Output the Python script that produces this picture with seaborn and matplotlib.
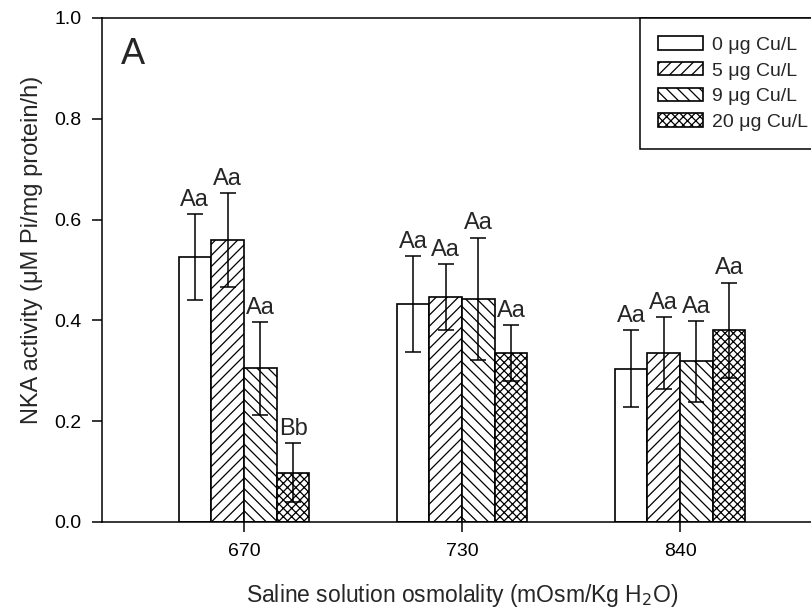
import pandas as pd
import seaborn as sns
import matplotlib.pyplot as plt

# values
osm = ['670', '730', '840']
cu_levels = ['0 μg Cu/L', '5 μg Cu/L', '9 μg Cu/L', '20 μg Cu/L']
cu0 = [0.526, 0.433, 0.304]
cu5 = [0.560, 0.446, 0.335]
cu9 = [0.305, 0.443, 0.319]
cu20 = [0.098, 0.335, 0.380]
se0 = [0.085, 0.095, 0.076]
se5 = [0.093, 0.065, 0.071]
se9 = [0.092, 0.121, 0.080]
se20 = [0.058, 0.055, 0.095]
letters0 = ['Aa', 'Aa', 'Aa']
letters5 = ['Aa', 'Aa', 'Aa']
letters9 = ['Aa', 'Aa', 'Aa']
letters20 = ['Bb', 'Aa', 'Aa']

means = [cu0, cu5, cu9, cu20]
errs = [se0, se5, se9, se20]
letters = [letters0, letters5, letters9, letters20]
hatches = ['', '///', '\\\\\\', 'xxxx']

rows = []
for lvl, m in zip(cu_levels, means):
    for o, v in zip(osm, m):
        rows.append({'osm': o, 'cu': lvl, 'nka': v})
df = pd.DataFrame(rows)

sns.set_style('ticks')
plt.rcParams['font.family'] = ['Liberation Sans', 'DejaVu Sans']
plt.rcParams['hatch.linewidth'] = 0.9

fig = plt.figure(figsize=(8.12, 6.13), dpi=100)
ax = fig.add_axes([102 / 812, 91 / 613, 720 / 812, 504 / 613])

sns.barplot(data=df, x='osm', y='nka', hue='cu', order=osm, hue_order=cu_levels,
            palette=['white'] * 4, width=0.6, errorbar=None, edgecolor='black',
            linewidth=1.2, legend=False, ax=ax)

# hatches, error bars and letters on each hue group
for cont, h, e, lab in zip(ax.containers, hatches, errs, letters):
    xs = []
    ys = []
    for bar in cont:
        bar.set_hatch(h)
        bar.set_facecolor('white')
        bar.set_edgecolor('black')
        xs.append(bar.get_x() + bar.get_width() / 2)
        ys.append(bar.get_height())
    ax.errorbar(xs, ys, yerr=e, fmt='none', ecolor='black', elinewidth=1.1,
                capsize=5.5, capthick=1.1)
    for x, y, s, t in zip(xs, ys, e, lab):
        ax.annotate(t, (x, y + s), xytext=(0, 6), textcoords='offset points',
                    ha='center', va='baseline', fontsize=17)

ax.set_xlim(-0.651, 2.651)
ax.set_ylim(0, 1.0)
ax.set_yticks([0.0, 0.2, 0.4, 0.6, 0.8, 1.0])
ax.set_yticklabels(['0.0', '0.2', '0.4', '0.6', '0.8', '1.0'])
ax.tick_params(direction='out', length=7, width=1.1, labelsize=14, pad=8, colors='black')
for sp in ax.spines.values():
    sp.set_visible(True)
    sp.set_linewidth(1.1)
    sp.set_color('black')

ax.set_xlabel('Saline solution osmolality (mOsm/Kg H$_2$O)', fontsize=16.5, labelpad=16)
ax.set_ylabel('NKA activity (μM Pi/mg protein/h)', fontsize=17)
ax.yaxis.set_label_coords(-0.082, 0.54)
ax.text(0.026, 0.962, 'A', transform=ax.transAxes, fontsize=26, va='top', ha='left')

leg = ax.legend(ax.containers, cu_levels, loc='upper left',
                bbox_to_anchor=(640 / 812, 1 - 18 / 613), bbox_transform=fig.transFigure,
                borderaxespad=0, fontsize=14, frameon=True, fancybox=False,
                edgecolor='black', framealpha=1, handlelength=2.3, handleheight=0.68,
                handletextpad=0.45, labelspacing=0.42, borderpad=0.95)
leg.get_frame().set_linewidth(1.1)

plt.savefig('out.png', dpi=100)
